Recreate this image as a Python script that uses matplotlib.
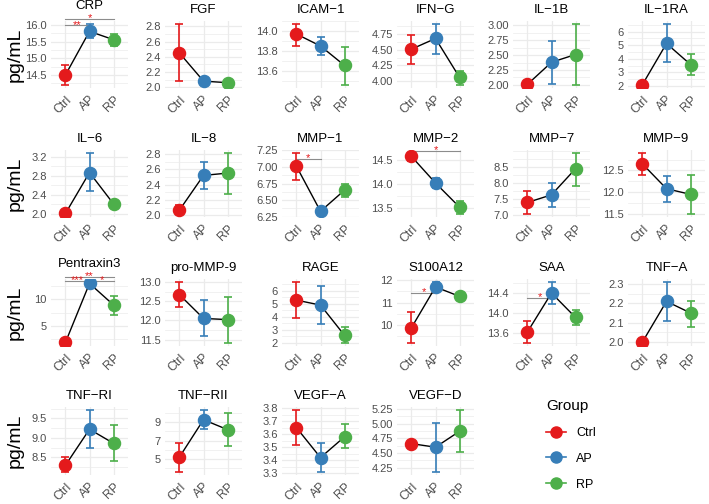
import numpy as np
import matplotlib
matplotlib.use("Agg")
import matplotlib.pyplot as plt
from matplotlib.lines import Line2D
from matplotlib.ticker import FixedLocator, AutoMinorLocator

plt.rcParams['font.family'] = ['Liberation Sans', 'DejaVu Sans']

# ---- data ----
groups = ["Ctrl", "AP", "RP"]
group_colors = ["#E41A1C", "#377EB8", "#4DAF4A"]

panels = ["CRP", "FGF", "ICAM−1", "IFN−G", "IL−1B", "IL−1RA",
          "IL−6", "IL−8", "MMP−1", "MMP−2", "MMP−7", "MMP−9",
          "Pentraxin3", "pro-MMP-9", "RAGE", "S100A12", "SAA", "TNF−A",
          "TNF−RI", "TNF−RII", "VEGF−A", "VEGF−D"]

ctrl_mean = [14.50, 2.45, 13.97, 4.51, 2.01, 2.10, 2.01, 2.07, 7.01, 14.57, 7.38, 12.65,
             1.90, 12.67, 5.29, 9.88, 13.62, 2.00, 8.30, 5.18, 3.65, 4.66]
ctrl_lo = [14.20, 2.08, 13.85, 4.28, 2.00, 2.07, 2.00, 2.02, 6.81, 14.48, 7.02, 12.40,
           1.80, 12.36, 3.90, 9.20, 13.40, 1.995, 8.13, 3.55, 3.515, 4.64]
ctrl_hi = [14.80, 2.83, 14.07, 4.74, 2.02, 2.13, 2.02, 2.14, 7.21, 14.64, 7.75, 12.90,
           2.00, 13.00, 6.68, 10.58, 13.84, 2.005, 8.50, 6.71, 3.785, 4.68]

ap_mean = [15.81, 2.08, 13.85, 4.68, 2.38, 5.12, 2.87, 2.52, 6.33, 14.02, 7.62, 12.08,
           12.94, 12.05, 4.91, 11.70, 14.40, 2.21, 9.22, 9.29, 3.42, 4.60]
ap_lo = [15.60, 2.03, 13.76, 4.44, 2.01, 3.73, 2.48, 2.34, 6.29, 13.91, 7.25, 11.77,
         12.70, 11.60, 3.47, 11.48, 14.18, 2.11, 8.73, 8.27, 3.31, 4.18]
ap_hi = [16.03, 2.13, 13.94, 4.91, 2.74, 6.55, 3.28, 2.70, 6.37, 14.13, 7.99, 12.38,
         13.20, 12.53, 6.35, 11.92, 14.62, 2.31, 9.71, 10.35, 3.53, 5.01]

rp_mean = [15.56, 2.06, 13.655, 4.06, 2.51, 3.57, 2.21, 2.55, 6.65, 13.52, 8.44, 11.95,
           8.90, 12.02, 2.58, 11.28, 13.91, 2.15, 8.86, 8.20, 3.58, 4.87]
rp_lo = [15.37, 2.04, 13.46, 3.94, 2.00, 2.79, 2.19, 2.28, 6.54, 13.38, 7.90, 11.50,
         7.10, 11.41, 2.00, 11.24, 13.76, 2.08, 8.41, 6.45, 3.49, 4.51]
rp_hi = [15.74, 2.08, 13.84, 4.17, 3.02, 4.33, 2.23, 2.81, 6.75, 13.65, 8.93, 12.40,
         10.60, 12.61, 3.19, 11.32, 14.06, 2.21, 9.33, 9.98, 3.68, 5.23]

ytick_labels = [
    ["14.5", "15.0", "15.5", "16.0"],
    ["2.0", "2.2", "2.4", "2.6", "2.8"],
    ["13.6", "13.8", "14.0"],
    ["4.00", "4.25", "4.50", "4.75"],
    ["2.00", "2.25", "2.50", "2.75", "3.00"],
    ["2", "3", "4", "5", "6"],
    ["2.0", "2.4", "2.8", "3.2"],
    ["2.0", "2.2", "2.4", "2.6", "2.8"],
    ["6.25", "6.50", "6.75", "7.00", "7.25"],
    ["13.5", "14.0", "14.5"],
    ["7.0", "7.5", "8.0", "8.5"],
    ["11.5", "12.0", "12.5"],
    ["5", "10"],
    ["11.5", "12.0", "12.5", "13.0"],
    ["2", "3", "4", "5", "6"],
    ["10", "11", "12"],
    ["13.6", "14.0", "14.4"],
    ["2.0", "2.1", "2.2", "2.3"],
    ["8.5", "9.0", "9.5"],
    ["5", "7", "9"],
    ["3.3", "3.4", "3.5", "3.6", "3.7", "3.8"],
    ["4.25", "4.50", "4.75", "5.00", "5.25"],
]

# significance brackets: (panel, from group, to group, y, label)
signif = [
    ("CRP", 0, 2, 16.18, "*"),
    ("CRP", 0, 1, 15.99, "**"),
    ("MMP−1", 0, 1, 7.12, "*"),
    ("MMP−2", 0, 2, 14.69, "*"),
    ("Pentraxin3", 0, 2, 14.20, "**"),
    ("Pentraxin3", 0, 1, 13.45, "***"),
    ("Pentraxin3", 1, 2, 13.45, "*"),
    ("S100A12", 0, 1, 11.45, "*"),
    ("SAA", 0, 1, 14.30, "*"),
]

# ---- layout (pixels) ----
W, H = 709, 504
col_ctrl_x = [66, 180, 297, 412, 528, 643]
row_span = [(21, 88), (150, 217), (279, 346), (407, 475)]


def px_rect(left, top, right, bottom):
    return [left / W, 1 - bottom / H, (right - left) / W, (bottom - top) / H]


fig = plt.figure(figsize=(W / 100, H / 100), dpi=100)

means = np.array([ctrl_mean, ap_mean, rp_mean]).T
lows = np.array([ctrl_lo, ap_lo, rp_lo]).T
highs = np.array([ctrl_hi, ap_hi, rp_hi]).T
x = np.arange(len(groups))

for i, name in enumerate(panels):
    r, c = divmod(i, 6)
    top, bottom = row_span[r]
    cx = col_ctrl_x[c]
    ax = fig.add_axes(px_rect(cx - 15, top, cx + 62, bottom))

    m, lo, hi = means[i], lows[i], highs[i]
    ax.plot(x, m, color="black", lw=1.0, zorder=2)
    for j in range(3):
        ax.errorbar(x[j], m[j], yerr=[[m[j] - lo[j]], [hi[j] - m[j]]], fmt="none",
                    ecolor=group_colors[j], elinewidth=1.2, capsize=2.8, capthick=1.2,
                    zorder=2.5)
        ax.plot(x[j], m[j], "o", color=group_colors[j], markersize=8.7, zorder=3)

    # ggplot-like 5% expansion
    dmin, dmax = lo.min(), hi.max()
    pad = (dmax - dmin) * 0.05
    ax.set_ylim(dmin - pad, dmax + pad)
    ax.set_xlim(-0.6, 2.6)

    ax.yaxis.set_major_locator(FixedLocator([float(t) for t in ytick_labels[i]]))
    ax.set_yticklabels(ytick_labels[i])
    ax.yaxis.set_minor_locator(AutoMinorLocator(2))
    ax.set_xticks(x)
    ax.set_xticklabels(groups, rotation=45, ha="right", va="top", rotation_mode="anchor")

    ax.tick_params(axis="both", which="both", length=0, labelcolor="#4D4D4D")
    ax.tick_params(axis="y", pad=3, labelsize=8)
    ax.tick_params(axis="x", pad=4, labelsize=8.8)
    ax.grid(True, which="major", color="#EBEBEB", lw=0.9)
    ax.grid(True, which="minor", axis="y", color="#EBEBEB", lw=0.5)
    ax.set_axisbelow(True)
    for s in ax.spines.values():
        s.set_visible(False)

    title_pad = 5.5
    for (pname, g1, g2, yv, lab) in signif:
        if pname != name:
            continue
        if yv > dmax + pad:
            title_pad = 8.5
        ax.plot([g1, g2], [yv, yv], color="#8C8C8C", lw=0.8, clip_on=False, zorder=1.5)
        ax.annotate(lab, xy=((g1 + g2) / 2, yv), xytext=(0, 0.5), textcoords="offset points",
                    ha="center", va="center", color="#E41A1C", fontsize=8,
                    annotation_clip=False)
    ax.set_title(name, fontsize=9.5, pad=title_pad)

    if c == 0:
        fig.text(15 / W, 1 - (top + bottom) / 2 / H, "pg/mL", rotation=90,
                 ha="center", va="center", fontsize=14)

handles = [Line2D([0], [0], color=col, marker="o", markersize=8, lw=1.2) for col in group_colors]
fig.legend(handles, groups, title="Group", loc="upper left",
           bbox_to_anchor=(535 / W, 1 - 388 / H), frameon=False, fontsize=9,
           title_fontsize=11, handlelength=1.6, labelspacing=1.1, alignment="left")

fig.savefig("out.png", dpi=100)
